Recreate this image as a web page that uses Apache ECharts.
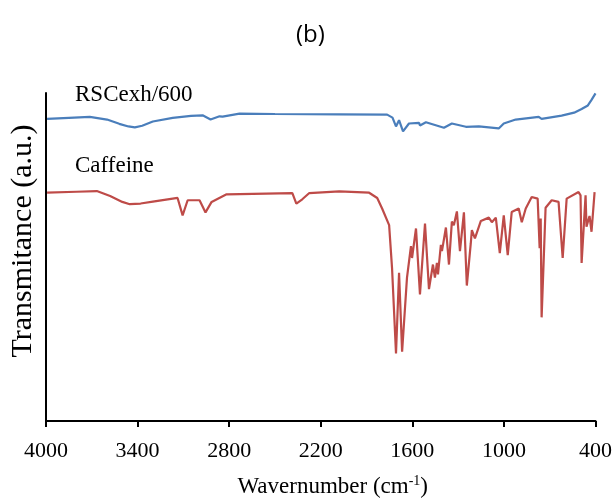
<!DOCTYPE html>
<html>
<head>
<meta charset="utf-8">
<script src="https://cdn.jsdelivr.net/npm/echarts@6/dist/echarts.min.js"></script>
<style>
    html, body { margin: 0; padding: 0; background: #ffffff; }
    #chart { width: 615px; height: 503px; }
</style>
</head>
<body>
<div id="chart"></div>
<script>
    // wavenumber (cm-1) / transmittance (a.u.)
    const rscWave = [3993, 3850, 3713, 3600, 3520, 3460, 3418, 3370, 3300, 3170, 3050, 2974, 2922, 2863, 2843, 2732, 2500, 2079, 1765, 1730, 1707, 1687, 1661, 1622, 1556, 1550, 1511, 1393, 1341, 1249, 1164, 1034, 1001, 923, 772, 753, 622, 540, 491, 450, 426, 400];
    const rscTrans = [92.1, 92.4, 92.7, 91.9, 90.6, 89.8, 89.5, 90.0, 91.3, 92.4, 93.0, 93.2, 91.9, 92.9, 92.8, 93.7, 93.6, 93.5, 93.4, 92.5, 89.8, 91.7, 88.3, 90.7, 90.9, 90.1, 91.1, 89.4, 90.7, 89.7, 89.8, 89.2, 90.7, 91.9, 92.7, 92.1, 93.1, 94.0, 95.1, 96.2, 97.9, 99.9];

    const cafWave = [3993, 3800, 3667, 3580, 3500, 3451, 3380, 3300, 3170, 3138, 3105, 3072, 2994, 2955, 2915, 2817, 2386, 2360, 2321, 2275, 2079, 1883, 1830, 1798, 1752, 1733, 1707, 1687, 1667, 1635, 1609, 1602, 1576, 1550, 1517, 1491, 1465, 1452, 1439, 1432, 1413, 1406, 1380, 1360, 1341, 1328, 1308, 1288, 1262, 1243, 1217, 1210, 1190, 1151, 1099, 1079, 1053, 1027, 1001, 988, 975, 949, 903, 883, 857, 818, 779, 766, 759, 753, 727, 687, 642, 615, 589, 511, 498, 491, 465, 459, 439, 426, 406];
    const cafTrans = [69.6, 69.9, 70.1, 68.6, 66.8, 66.1, 66.3, 66.9, 67.8, 68.0, 62.7, 67.3, 67.3, 63.6, 66.8, 69.1, 69.5, 66.3, 67.6, 69.5, 70.0, 69.6, 68.0, 64.8, 59.7, 46.7, 20.6, 45.2, 21.1, 43.7, 53.3, 49.7, 58.7, 38.6, 60.2, 40.2, 47.7, 43.7, 48.2, 44.7, 53.7, 51.8, 59.0, 47.7, 60.8, 59.7, 63.9, 51.8, 63.6, 41.3, 54.2, 58.2, 55.7, 61.0, 62.0, 60.6, 62.0, 51.2, 62.7, 63.2, 50.6, 63.7, 64.8, 60.6, 64.8, 68.3, 67.8, 52.7, 61.7, 31.6, 65.0, 67.3, 66.8, 49.7, 67.8, 69.8, 68.8, 48.2, 68.8, 59.2, 62.5, 57.7, 69.8];

    const xTicks = [4000, 3400, 2800, 2200, 1600, 1000, 400];

    const serif = '"Liberation Serif", "DejaVu Serif", serif';

    function pairs(xs, ys) {
        return xs.map((x, i) => [x, ys[i]]);
    }

    const chart = echarts.init(document.getElementById('chart'));
    const option = {
        animation: false,
        backgroundColor: '#ffffff',
        title: {
            text: '(b)',
            left: 291,
            top: 18,
            textStyle: {
                fontFamily: '"Open Sans", "Noto Sans", sans-serif',
                fontSize: 24,
                fontWeight: 'normal',
                color: '#000'
            }
        },
        grid: {
            left: 46,
            right: 18,
            top: 93,
            bottom: 78
        },
        xAxis: {
            type: 'value',
            inverse: true,
            min: 400,
            max: 4000,
            interval: 600,
            name: '{n|Wavernumber (cm}{s|-1}{n|)}',
            nameLocation: 'middle',
            nameGap: 53,
            nameTextStyle: {
                padding: [0, 0, 0, 24],
                rich: {
                    n: { fontFamily: serif, fontSize: 23, color: '#000' },
                    s: { fontFamily: serif, fontSize: 14, color: '#000', verticalAlign: 'bottom', padding: [0, 0, 11, 0] }
                }
            },
            axisLine: { lineStyle: { color: '#000', width: 2 } },
            axisTick: { show: true, inside: false, length: 6, lineStyle: { color: '#000', width: 2 } },
            axisLabel: {
                fontFamily: serif,
                fontSize: 22,
                color: '#000',
                margin: 19,
                formatter: v => xTicks.includes(v) ? String(v) : ''
            },
            splitLine: { show: false }
        },
        yAxis: {
            type: 'value',
            min: 0,
            max: 100,
            axisLine: { show: true, lineStyle: { color: '#000', width: 2 } },
            axisTick: { show: false },
            axisLabel: { show: false },
            splitLine: { show: false }
        },
        graphic: [
            {
                type: 'text',
                x: 23,
                y: 241,
                rotation: Math.PI / 2,
                style: {
                    text: 'Transmitance (a.u.)',
                    font: '30px ' + serif,
                    fill: '#000',
                    align: 'center',
                    verticalAlign: 'middle'
                }
            },
            {
                type: 'text',
                left: 75,
                top: 83,
                style: { text: 'RSCexh/600', font: '23px ' + serif, fill: '#000' }
            },
            {
                type: 'text',
                left: 75,
                top: 154,
                style: { text: 'Caffeine', font: '23px ' + serif, fill: '#000' }
            }
        ],
        series: [
            {
                name: 'RSCexh/600',
                type: 'line',
                showSymbol: false,
                lineStyle: { color: '#4a7ebb', width: 2.2 },
                data: pairs(rscWave, rscTrans)
            },
            {
                name: 'Caffeine',
                type: 'line',
                showSymbol: false,
                lineStyle: { color: '#be4b48', width: 2.2 },
                data: pairs(cafWave, cafTrans)
            }
        ]
    };
    chart.setOption(option);
</script>
</body>
</html>
